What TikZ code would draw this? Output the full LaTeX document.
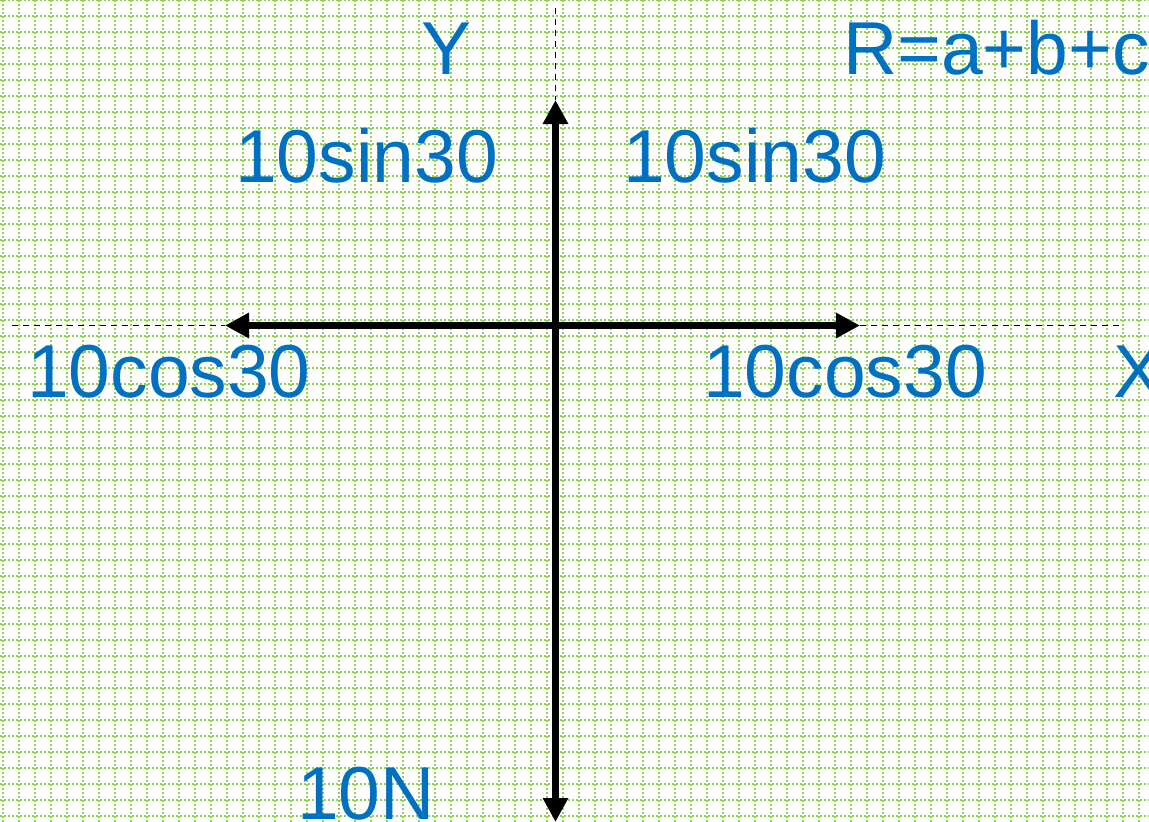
\documentclass[tikz,border=0pt]{standalone}
\usepackage{fontspec}
\setmainfont{Liberation Sans}
\usetikzlibrary{arrows.meta}
\definecolor{gridgreen}{HTML}{92D050}
\definecolor{lblue}{HTML}{0070C0}
\tikzset{
  gridline/.style={draw=gridgreen, line width=2pt, dash pattern=on 2pt off 2pt},
  force/.style={draw=black, line width=7pt, -{Triangle[length=24pt,width=24pt]}},
  axisdash/.style={draw=black, line width=1.3pt, dash pattern=on 6pt off 5pt},
  lbl/.style={text=lblue, anchor=base west, inner sep=0pt, font=\fontsize{75}{82}\selectfont}
}
\begin{document}
\begin{tikzpicture}[x=1pt,y=-1pt]
\fill[white] (0,0) rectangle (1149,822);
\useasboundingbox (0,0) rectangle (1149,822);
% dotted grid
\foreach \i in {0,...,71} {
  \draw[gridline] ({3+16*\i},0) -- ({3+16*\i},822);
}
\foreach \j in {0,...,51} {
  \draw[gridline] (0,{16*\j}) -- (1149,{16*\j});
}
% coordinates
\coordinate (O) at (555.5,325.5);
\coordinate (T) at (555.5,100);
\coordinate (B) at (555.5,822);
\coordinate (L) at (225,325.5);
\coordinate (R) at (860,325.5);
\coordinate (Ttop) at (555.5,8);
\coordinate (Lend) at (12,325.5);
\coordinate (Rend) at (1124,325.5);
% dashed axes
\draw[axisdash] (Ttop) -- (T);
\draw[axisdash] (Lend) -- (L);
\draw[axisdash] (R) -- (Rend);
% force arrows
\draw[force] (O) -- (T);
\draw[force] (O) -- (B);
\draw[force] (O) -- (L);
\draw[force] (O) -- (R);
% labels
\node[lbl] (ylab) at (421,74) {Y};
\node[lbl] (req) at (843,74) {R=a+b+c};
\node[lbl] (s1) at (235,182) {10sin30};
\node[lbl] (s2) at (623,182) {10sin30};
\node[lbl] (c1) at (27,397) {10cos30};
\node[lbl] (c2) at (703,397) {10cos30};
\node[lbl] (xlab) at (1113,397) {X};
\node[lbl] (n) at (297,819) {10N};
\end{tikzpicture}
\end{document}
